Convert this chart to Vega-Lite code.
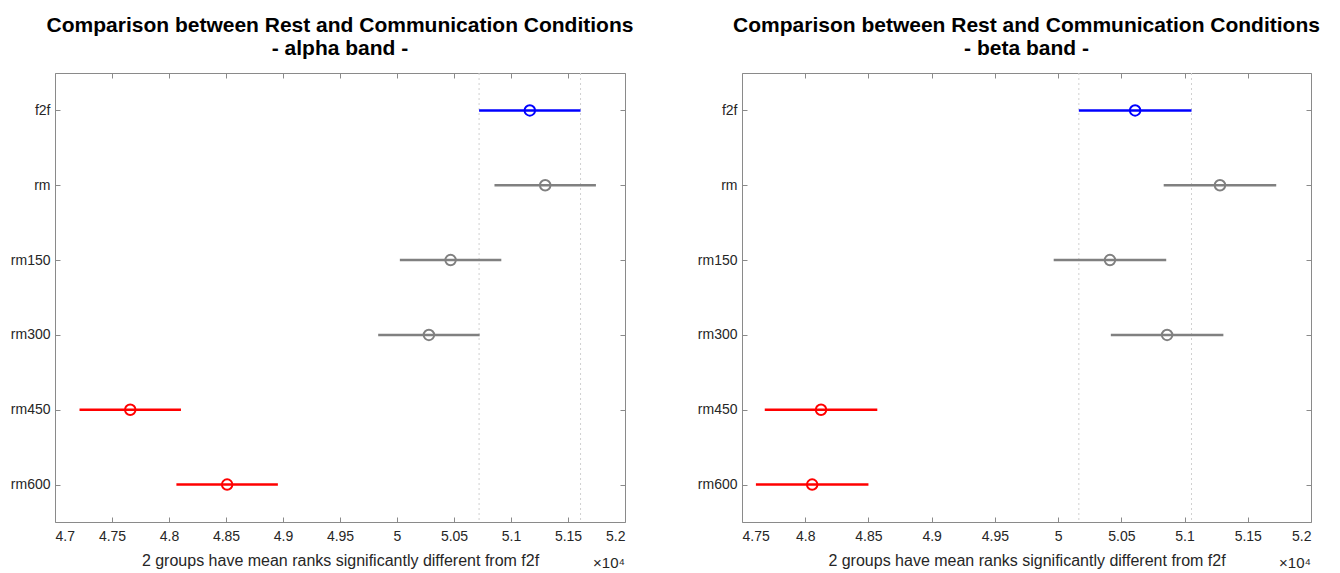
{
  "$schema": "https://vega.github.io/schema/vega-lite/v6.json",
  "background": "white",
  "padding": {"left": 5, "top": 14, "right": 5, "bottom": 5},
  "config": {
    "font": "Liberation Sans",
    "view": {"stroke": null},
    "axis": {"domainColor": "#8a8a8a", "tickColor": "#8a8a8a", "labelColor": "#262626", "titleColor": "#262626", "labelFont": "Liberation Sans", "titleFont": "Liberation Sans", "labelFontSize": 14, "titleFontSize": 16, "titleFontWeight": "normal", "grid": false, "domainWidth": 1, "tickWidth": 1},
    "title": {"font": "Liberation Sans", "fontSize": 21, "fontWeight": "bold", "color": "black", "lineHeight": 23, "anchor": "middle", "offset": 14}
  },
  "datasets": {
    "alpha": [
      {"group": "f2f", "mean": 51165, "lo": 50720, "hi": 51610, "status": "reference"},
      {"group": "rm", "mean": 51300, "lo": 50855, "hi": 51745, "status": "not significant"},
      {"group": "rm150", "mean": 50470, "lo": 50025, "hi": 50915, "status": "not significant"},
      {"group": "rm300", "mean": 50280, "lo": 49835, "hi": 50725, "status": "not significant"},
      {"group": "rm450", "mean": 47660, "lo": 47215, "hi": 48105, "status": "significant"},
      {"group": "rm600", "mean": 48510, "lo": 48065, "hi": 48955, "status": "significant"}
    ],
    "beta": [
      {"group": "f2f", "mean": 50609, "lo": 50164, "hi": 51055, "status": "reference"},
      {"group": "rm", "mean": 51280, "lo": 50835, "hi": 51725, "status": "not significant"},
      {"group": "rm150", "mean": 50410, "lo": 49965, "hi": 50855, "status": "not significant"},
      {"group": "rm300", "mean": 50862, "lo": 50417, "hi": 51307, "status": "not significant"},
      {"group": "rm450", "mean": 48125, "lo": 47680, "hi": 48570, "status": "significant"},
      {"group": "rm600", "mean": 48055, "lo": 47610, "hi": 48500, "status": "significant"}
    ]
  },
  "spacing": 58,
  "hconcat": [
    {
      "width": 570,
      "height": 449,
      "title": {"text": ["Comparison between Rest and Communication Conditions", "- alpha band -"]},
      "data": {"name": "alpha"},
      "resolve": {"axis": {"x": "independent", "y": "independent"}},
      "layer": [
        {
          "transform": [{"filter": "datum.group == 'f2f'"}, {"fold": ["lo", "hi"], "as": ["end", "value"]}],
          "mark": {"type": "rule", "color": "#d0d0d0", "strokeDash": [2, 3], "strokeWidth": 1},
          "encoding": {
            "x": {"field": "value", "type": "quantitative", "scale": {"domain": [47000, 52000], "nice": false, "zero": false}, "axis": null}
          }
        },
        {
          "mark": {"type": "rule", "strokeWidth": 2.5},
          "encoding": {
            "x": {"field": "lo", "type": "quantitative", "scale": {"domain": [47000, 52000], "nice": false, "zero": false},
                  "axis": {"orient": "top", "labels": false, "title": null, "tickSize": -5, "values": [47000, 47500, 48000, 48500, 49000, 49500, 50000, 50500, 51000, 51500, 52000]}},
            "x2": {"field": "hi"},
            "y": {"field": "group", "type": "nominal", "sort": ["f2f", "rm", "rm150", "rm300", "rm450", "rm600"],
                  "scale": {"type": "point", "padding": 0.5, "domain": ["f2f", "rm", "rm150", "rm300", "rm450", "rm600"]},
                  "axis": {"orient": "right", "labels": false, "title": null, "tickSize": -5}},
            "color": {"field": "status", "type": "nominal", "scale": {"domain": ["reference", "not significant", "significant"], "range": ["#0000ff", "#808080", "#ff0000"]}, "legend": null}
          }
        },
        {
          "mark": {"type": "point", "filled": false, "strokeWidth": 2, "size": 110, "opacity": 1},
          "encoding": {
            "x": {"field": "mean", "type": "quantitative", "scale": {"domain": [47000, 52000], "nice": false, "zero": false},
                  "axis": {"orient": "bottom", "title": "2 groups have mean ranks significantly different from f2f", "tickSize": -5, "labelPadding": 12, "titlePadding": 9,
                           "values": [47000, 47500, 48000, 48500, 49000, 49500, 50000, 50500, 51000, 51500, 52000],
                           "labelExpr": "format(datum.value / 10000, '~g')"}},
            "y": {"field": "group", "type": "nominal", "sort": ["f2f", "rm", "rm150", "rm300", "rm450", "rm600"],
                  "scale": {"type": "point", "padding": 0.5, "domain": ["f2f", "rm", "rm150", "rm300", "rm450", "rm600"]},
                  "axis": {"orient": "left", "title": null, "tickSize": -5, "labelPadding": 10, "minExtent": 50, "maxExtent": 50}},
            "color": {"field": "status", "type": "nominal", "scale": {"domain": ["reference", "not significant", "significant"], "range": ["#0000ff", "#808080", "#ff0000"]}, "legend": null}
          }
        },
        {
          "data": {"values": [{"label": "×10⁴"}]},
          "mark": {"type": "text", "align": "right", "baseline": "middle", "fontSize": 15, "color": "#262626", "dy": 78},
          "encoding": {
            "text": {"field": "label"},
            "x": {"datum": 52000, "type": "quantitative", "axis": null},
            "y": {"datum": "rm600", "type": "nominal", "axis": null}
          }
        }
      ]
    },
    {
      "width": 569,
      "height": 449,
      "title": {"text": ["Comparison between Rest and Communication Conditions", "- beta band -"]},
      "data": {"name": "beta"},
      "resolve": {"axis": {"x": "independent", "y": "independent"}},
      "layer": [
        {
          "transform": [{"filter": "datum.group == 'f2f'"}, {"fold": ["lo", "hi"], "as": ["end", "value"]}],
          "mark": {"type": "rule", "color": "#d0d0d0", "strokeDash": [2, 3], "strokeWidth": 1},
          "encoding": {
            "x": {"field": "value", "type": "quantitative", "scale": {"domain": [47500, 52000], "nice": false, "zero": false}, "axis": null}
          }
        },
        {
          "mark": {"type": "rule", "strokeWidth": 2.5},
          "encoding": {
            "x": {"field": "lo", "type": "quantitative", "scale": {"domain": [47500, 52000], "nice": false, "zero": false},
                  "axis": {"orient": "top", "labels": false, "title": null, "tickSize": -5, "values": [47500, 48000, 48500, 49000, 49500, 50000, 50500, 51000, 51500, 52000]}},
            "x2": {"field": "hi"},
            "y": {"field": "group", "type": "nominal", "sort": ["f2f", "rm", "rm150", "rm300", "rm450", "rm600"],
                  "scale": {"type": "point", "padding": 0.5, "domain": ["f2f", "rm", "rm150", "rm300", "rm450", "rm600"]},
                  "axis": {"orient": "right", "labels": false, "title": null, "tickSize": -5}},
            "color": {"field": "status", "type": "nominal", "scale": {"domain": ["reference", "not significant", "significant"], "range": ["#0000ff", "#808080", "#ff0000"]}, "legend": null}
          }
        },
        {
          "mark": {"type": "point", "filled": false, "strokeWidth": 2, "size": 110, "opacity": 1},
          "encoding": {
            "x": {"field": "mean", "type": "quantitative", "scale": {"domain": [47500, 52000], "nice": false, "zero": false},
                  "axis": {"orient": "bottom", "title": "2 groups have mean ranks significantly different from f2f", "tickSize": -5, "labelPadding": 12, "titlePadding": 9,
                           "values": [47500, 48000, 48500, 49000, 49500, 50000, 50500, 51000, 51500, 52000],
                           "labelExpr": "format(datum.value / 10000, '~g')"}},
            "y": {"field": "group", "type": "nominal", "sort": ["f2f", "rm", "rm150", "rm300", "rm450", "rm600"],
                  "scale": {"type": "point", "padding": 0.5, "domain": ["f2f", "rm", "rm150", "rm300", "rm450", "rm600"]},
                  "axis": {"orient": "left", "title": null, "tickSize": -5, "labelPadding": 10, "minExtent": 50, "maxExtent": 50}},
            "color": {"field": "status", "type": "nominal", "scale": {"domain": ["reference", "not significant", "significant"], "range": ["#0000ff", "#808080", "#ff0000"]}, "legend": null}
          }
        },
        {
          "data": {"values": [{"label": "×10⁴"}]},
          "mark": {"type": "text", "align": "right", "baseline": "middle", "fontSize": 15, "color": "#262626", "dy": 78},
          "encoding": {
            "text": {"field": "label"},
            "x": {"datum": 52000, "type": "quantitative", "axis": null},
            "y": {"datum": "rm600", "type": "nominal", "axis": null}
          }
        }
      ]
    }
  ]
}
